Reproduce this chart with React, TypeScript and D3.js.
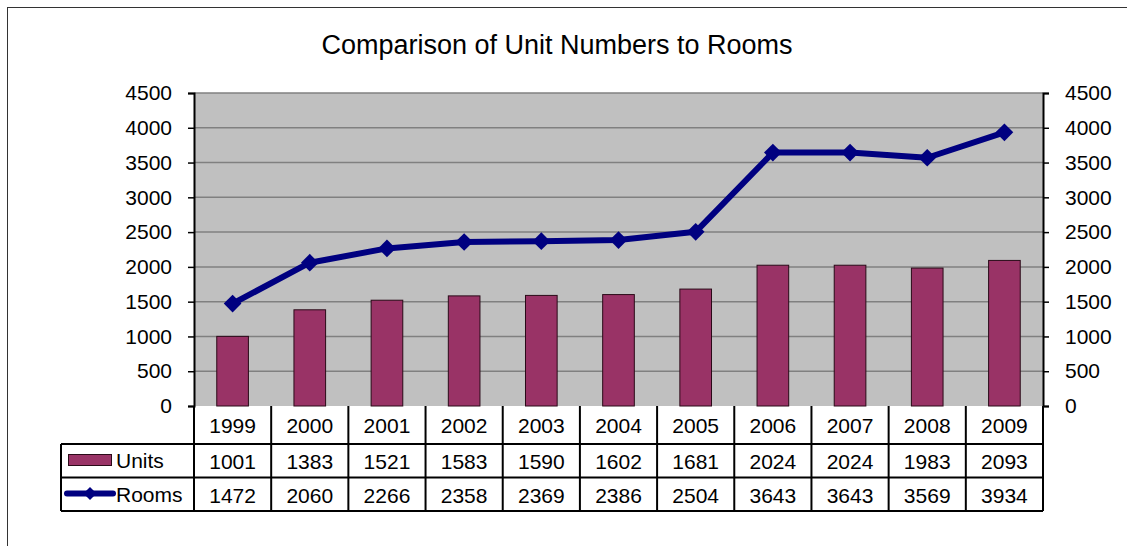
import React, { useRef, useEffect } from 'react';
import * as d3 from 'd3';

const years = ['1999', '2000', '2001', '2002', '2003', '2004', '2005', '2006', '2007', '2008', '2009'];
const units = [1001, 1383, 1521, 1583, 1590, 1602, 1681, 2024, 2024, 1983, 2093];
const rooms = [1472, 2060, 2266, 2358, 2369, 2386, 2504, 3643, 3643, 3569, 3934];
const yTicks = [0, 500, 1000, 1500, 2000, 2500, 3000, 3500, 4000, 4500];

const App = () => {
  const ref = useRef<SVGSVGElement>(null);

  useEffect(() => {
    const svg = d3.select(ref.current);
    svg.selectAll('*').remove();

    const font = '"Liberation Sans", Arial, sans-serif';
    const fs = '21px';
    const left = 194;
    const right = 1043;
    const top = 93;
    const bottom = 406;
    const legendLeft = 61;

    const x = d3.scaleBand<string>().domain(years).range([left, right]);
    const y = d3.scaleLinear().domain([0, 4500]).range([bottom, top]);

    // outer frame
    svg.append('rect')
      .attr('x', 7.5).attr('y', 7.5)
      .attr('width', 1130).attr('height', 560)
      .attr('fill', '#fff').attr('stroke', '#333').attr('stroke-width', 1);

    svg.append('text')
      .attr('x', 557).attr('y', 54)
      .attr('text-anchor', 'middle')
      .style('font-family', font).style('font-size', '27px')
      .text('Comparison of Unit Numbers to Rooms');

    // plot background
    svg.append('rect')
      .attr('x', left).attr('y', top)
      .attr('width', right - left).attr('height', bottom - top)
      .attr('fill', '#c0c0c0');

    // gridlines
    svg.append('g')
      .selectAll('line')
      .data(yTicks.filter((d) => d > 0))
      .join('line')
      .attr('x1', left).attr('x2', right)
      .attr('y1', (d) => y(d)).attr('y2', (d) => y(d))
      .attr('stroke', '#808080').attr('stroke-width', 1.5);

    // bars
    const bw = x.bandwidth() * 0.41;
    svg.append('g')
      .selectAll('rect')
      .data(units)
      .join('rect')
      .attr('x', (d, i) => x(years[i])! + x.bandwidth() / 2 - bw / 2)
      .attr('y', (d) => y(d))
      .attr('width', bw)
      .attr('height', (d) => bottom - y(d))
      .attr('fill', '#993366')
      .attr('stroke', '#2a0a18').attr('stroke-width', 1);

    // axes
    const fmt = d3.format('d');
    const axisL = d3.axisLeft(y).tickValues(yTicks).tickFormat(fmt as any).tickSize(6).tickPadding(16);
    const gL = svg.append('g').attr('transform', `translate(${left},0)`).call(axisL);
    const axisR = d3.axisRight(y).tickValues(yTicks).tickFormat(fmt as any).tickSize(6).tickPadding(16);
    const gR = svg.append('g').attr('transform', `translate(${right},0)`).call(axisR);
    [gL, gR].forEach((g) => {
      g.select('.domain').attr('stroke', '#000').attr('stroke-width', 2);
      g.selectAll('.tick line').attr('stroke', '#000').attr('stroke-width', 1.5);
      g.selectAll('.tick text')
        .attr('fill', '#000')
        .style('font-family', font).style('font-size', fs);
    });

    // rooms line
    const cx = (i: number) => x(years[i])! + x.bandwidth() / 2;
    const line = d3.line<number>().x((d, i) => cx(i)).y((d) => y(d));
    svg.append('path')
      .datum(rooms)
      .attr('d', line)
      .attr('fill', 'none')
      .attr('stroke', '#000080').attr('stroke-width', 6)
      .attr('stroke-linejoin', 'round');

    const diamond = d3.symbol().type(d3.symbolDiamond2).size(200);
    svg.append('g')
      .selectAll('path')
      .data(rooms)
      .join('path')
      .attr('d', diamond)
      .attr('transform', (d, i) => `translate(${cx(i)},${y(d)})`)
      .attr('fill', '#000080');

    // data table
    const tbl = svg.append('g');
    const r1 = 444;
    const r2 = 477.5;
    const r3 = 511;
    const hline = (yy: number) =>
      tbl.append('line').attr('x1', legendLeft).attr('x2', right).attr('y1', yy).attr('y2', yy)
        .attr('stroke', '#000').attr('stroke-width', 2);
    [r1, r2, r3].forEach(hline);
    tbl.append('line').attr('x1', legendLeft).attr('x2', legendLeft).attr('y1', r1).attr('y2', r3)
      .attr('stroke', '#000').attr('stroke-width', 2);

    const edges = [...years.map((yr) => x(yr)!), right];
    tbl.selectAll('.vline')
      .data(edges)
      .join('line')
      .attr('class', 'vline')
      .attr('x1', (d) => d).attr('x2', (d) => d)
      .attr('y1', bottom).attr('y2', r3)
      .attr('stroke', '#000').attr('stroke-width', 2);

    const rows = [
      { vals: years, yPos: 425 },
      { vals: units.map(String), yPos: 461 },
      { vals: rooms.map(String), yPos: 495 },
    ];
    rows.forEach((row) => {
      tbl.append('g')
        .selectAll('text')
        .data(row.vals)
        .join('text')
        .attr('x', (d, i) => cx(i))
        .attr('y', row.yPos)
        .attr('dy', '0.36em')
        .attr('text-anchor', 'middle')
        .style('font-family', font).style('font-size', fs)
        .text((d) => d);
    });

    // legend keys
    svg.append('rect')
      .attr('x', 68.5).attr('y', 454.5)
      .attr('width', 43).attr('height', 11)
      .attr('fill', '#993366').attr('stroke', '#2a0a18').attr('stroke-width', 1);
    svg.append('text')
      .attr('x', 116).attr('y', 460).attr('dy', '0.36em')
      .style('font-family', font).style('font-size', fs)
      .text('Units');

    const ly = 493.5;
    svg.append('line')
      .attr('x1', 67).attr('x2', 113).attr('y1', ly).attr('y2', ly)
      .attr('stroke', '#000080').attr('stroke-width', 6).attr('stroke-linecap', 'round');
    svg.append('path')
      .attr('d', d3.symbol().type(d3.symbolDiamond2).size(110))
      .attr('transform', `translate(90,${ly})`)
      .attr('fill', '#000080');
    svg.append('text')
      .attr('x', 116).attr('y', ly + 1).attr('dy', '0.36em')
      .style('font-family', font).style('font-size', fs)
      .text('Rooms');
  }, []);

  return <svg ref={ref} width={1127} height={546} style={{ position: 'absolute', left: 0, top: 0 }}></svg>;
};

export default App;
